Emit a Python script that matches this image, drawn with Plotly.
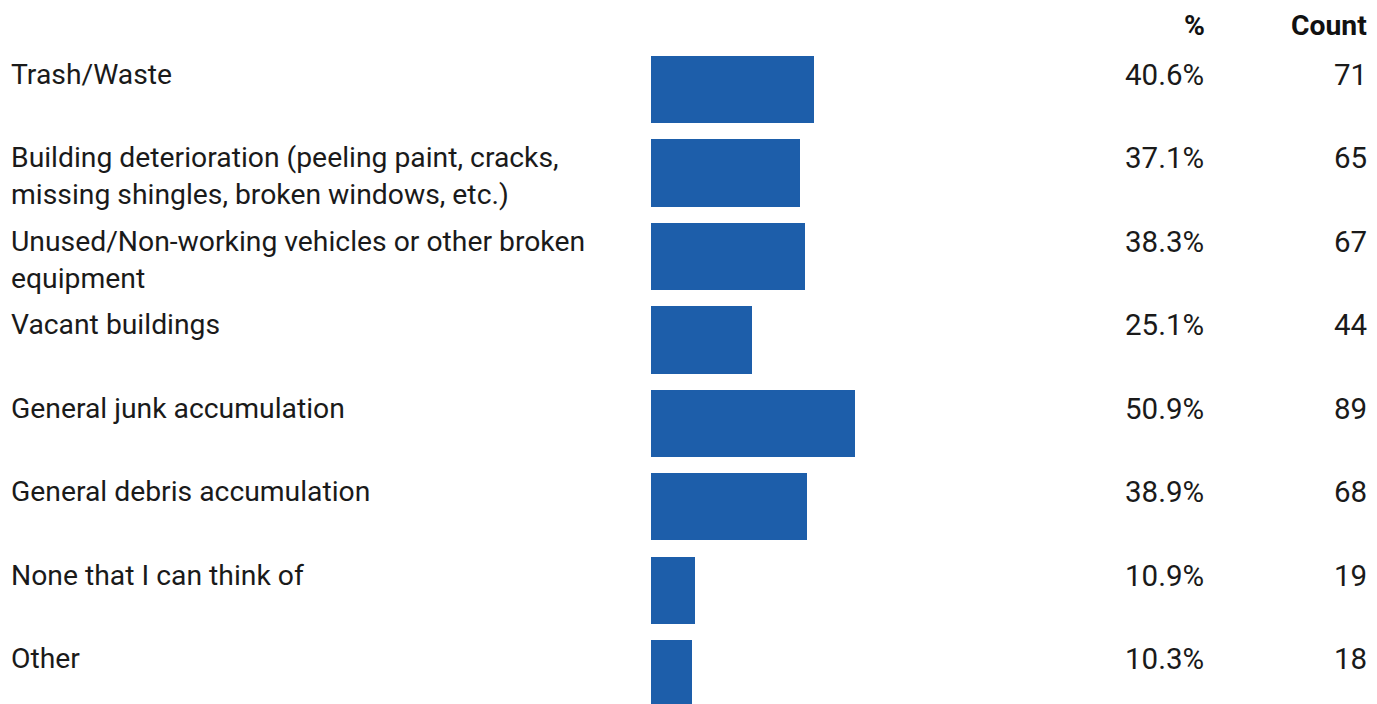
import plotly.graph_objects as go

categories = [
    "Trash/Waste",
    "Building deterioration (peeling paint, cracks,<br>missing shingles, broken windows, etc.)",
    "Unused/Non-working vehicles or other broken<br>equipment",
    "Vacant buildings",
    "General junk accumulation",
    "General debris accumulation",
    "None that I can think of",
    "Other",
]
pct_values = [40.6, 37.1, 38.3, 25.1, 50.9, 38.9, 10.9, 10.3]
counts = [71, 65, 67, 44, 89, 68, 19, 18]
headers = ["%", "Count"]

W, H = 1377, 704
FONT = "Roboto"
BAR_COLOR = "#1d5eaa"
ROW_PX = 83.43
BAR_FRAC = 0.806
FIRST_CENTER = 56 + ROW_PX * BAR_FRAC / 2
PX_PER_PCT = 4.015
X0_PX = 651

y_r0 = -FIRST_CENTER / ROW_PX
y_r1 = y_r0 + H / ROW_PX
x_r0 = -X0_PX / PX_PER_PCT
x_r1 = x_r0 + W / PX_PER_PCT

idx = list(range(len(categories)))

fig = go.Figure()
fig.add_trace(go.Bar(
    x=pct_values, y=idx, orientation="h", width=BAR_FRAC,
    marker=dict(color=BAR_COLOR, line=dict(width=0)),
    hoverinfo="skip",
))

ann = []
LINE_PX = 37
FS = 28.3
NUM_FS = 29.5
TXT = "#1a1a1a"
for i, (lab, p, c) in enumerate(zip(categories, pct_values, counts)):
    top = i - BAR_FRAC / 2
    for j, line in enumerate(lab.split("<br>")):
        ann.append(dict(x=9 / W, xref="paper", y=top, yref="y", text=line,
                        xanchor="left", yanchor="top", showarrow=False,
                        yshift=-j * LINE_PX,
                        font=dict(family=FONT, size=FS, color=TXT)))
    ann.append(dict(x=1206 / W, xref="paper", y=top, yref="y", text=f"{p:.1f}%",
                    xanchor="right", yanchor="top", showarrow=False, yshift=0,
                    font=dict(family=FONT, size=NUM_FS, color=TXT)))
    ann.append(dict(x=1369 / W, xref="paper", y=top, yref="y", text=str(c),
                    xanchor="right", yanchor="top", showarrow=False, yshift=0,
                    font=dict(family=FONT, size=NUM_FS, color=TXT)))

for h, xr in zip(headers, [1207, 1369]):
    ann.append(dict(x=xr / W, xref="paper", y=1 - 7 / H, yref="paper", text=f"<b>{h}</b>",
                    xanchor="right", yanchor="top", showarrow=False,
                    font=dict(family=FONT, size=FS, color="#111111")))

fig.update_layout(
    width=W, height=H, autosize=False,
    margin=dict(l=0, r=0, t=0, b=0),
    paper_bgcolor="white", plot_bgcolor="white",
    showlegend=False,
    xaxis=dict(range=[x_r0, x_r1], visible=False, fixedrange=True),
    yaxis=dict(range=[y_r1, y_r0], visible=False, fixedrange=True),
    annotations=ann,
    bargap=0,
)
fig.write_html(
    "out.html",
    config={"displayModeBar": False},
    post_script="document.body.style.margin='0';document.body.style.overflow='hidden';",
)
